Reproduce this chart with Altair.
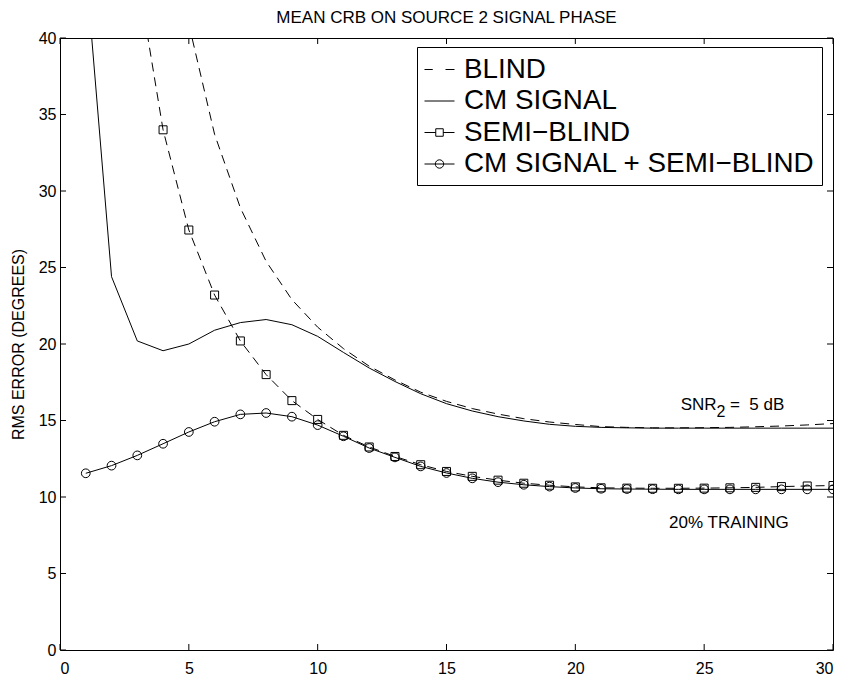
import altair as alt
import pandas as pd

# ---------------- data ----------------
x_blind = list(range(5, 31))
blind = [40.9, 33.7, 28.9, 25.4, 22.9, 21.1, 19.7, 18.55, 17.65, 16.85,
         16.25, 15.78, 15.42, 15.12, 14.9, 14.74, 14.6, 14.55, 14.52, 14.52,
         14.53, 14.55, 14.59, 14.64, 14.71, 14.8]

x_cm = list(range(1, 31))
cm_signal = [44.7, 24.4, 20.2, 19.56, 20.0, 20.9, 21.4, 21.6, 21.26, 20.5,
             19.45, 18.43, 17.55, 16.75, 16.1, 15.62, 15.25, 14.97, 14.75, 14.62,
             14.55, 14.52, 14.5, 14.5, 14.5, 14.5, 14.5, 14.5, 14.5, 14.5]

x_semi = list(range(3, 31))
semi_blind = [44.2, 34.0, 27.45, 23.2, 20.2, 18.0, 16.3, 15.07, 14.03, 13.27,
              12.65, 12.11, 11.67, 11.35, 11.1, 10.9, 10.77, 10.66, 10.6, 10.58,
              10.57, 10.57, 10.58, 10.6, 10.63, 10.68, 10.72, 10.75]

x_cmsemi = list(range(1, 31))
cm_semi = [11.55, 12.05, 12.72, 13.48, 14.25, 14.92, 15.4, 15.49, 15.25, 14.7,
           13.97, 13.2, 12.59, 12.0, 11.57, 11.22, 10.97, 10.8, 10.68, 10.59,
           10.54, 10.52, 10.51, 10.5, 10.5, 10.5, 10.5, 10.5, 10.5, 10.5]

series_names = ["BLIND", "CM SIGNAL", "SEMI\u2212BLIND", "CM SIGNAL + SEMI\u2212BLIND"]
x_ticks = [0, 5, 10, 15, 20, 25, 30]
y_ticks = [0, 5, 10, 15, 20, 25, 30, 35, 40]

title_text = "MEAN CRB ON SOURCE 2 SIGNAL PHASE"
y_title = "RMS ERROR (DEGREES)"

# ---------------- layout ----------------
W, H = 773, 612
FONT = "Liberation Sans"
TICK = 6

frames = []
for name, xs_, ys_ in zip(series_names,
                          [x_blind, x_cm, x_semi, x_cmsemi],
                          [blind, cm_signal, semi_blind, cm_semi]):
    frames.append(pd.DataFrame({"series": name, "x": xs_, "y": ys_}))
df = pd.concat(frames, ignore_index=True)

xs = alt.Scale(domain=[0, 30], nice=False, zero=False)
ys = alt.Scale(domain=[0, 40], nice=False, zero=False)

x_axis = alt.Axis(values=x_ticks, format="d", ticks=False, domain=False, grid=False,
                  labelFont=FONT, labelFontSize=16, labelColor="black", labelPadding=10)
y_axis = alt.Axis(values=y_ticks, format="d", ticks=False, domain=False, grid=False,
                  labelFont=FONT, labelFontSize=16, labelColor="black", labelPadding=4,
                  titleFont=FONT, titleFontSize=16, titleFontWeight="normal",
                  titleColor="black", titlePadding=12)

def X(field="x"):
    return alt.X(f"{field}:Q", scale=xs, axis=x_axis, title=None)

def Y(field="y"):
    return alt.Y(f"{field}:Q", scale=ys, axis=y_axis, title=y_title)

base = alt.Chart(df)

def sel(name):
    return base.transform_filter(alt.datum.series == name)

blind_line = sel("BLIND").mark_line(color="black", strokeWidth=1, strokeDash=[9, 6], clip=True).encode(
    x=X(), y=Y())
cm_line = sel("CM SIGNAL").mark_line(color="black", strokeWidth=1, clip=True).encode(x=X(), y=Y())
semi_line = sel(series_names[2]).mark_line(color="black", strokeWidth=1, strokeDash=[9, 6], clip=True).encode(
    x=X(), y=Y())
semi_pts = sel(series_names[2]).mark_point(shape="square", size=64, filled=False, color="black",
                                            strokeWidth=1, opacity=1, clip=True).encode(x=X(), y=Y())
cmsemi_line = sel(series_names[3]).mark_line(color="black", strokeWidth=1, clip=True).encode(x=X(), y=Y())
cmsemi_pts = sel(series_names[3]).mark_point(shape="circle", size=76, filled=False, color="black",
                                             strokeWidth=1, opacity=1, clip=True).encode(x=X(), y=Y())

# legend (custom symbols: line + marker)
legend_paths = [
    "M-1,0H-0.45M0.4,0H1",
    "M-1,0H1",
    "M-1,0H-0.25M-0.25,-0.25H0.25V0.25H-0.25ZM0.25,0H1",
    "M-1,0H1M-0.28,0A0.28,0.28 0 1,0 0.28,0A0.28,0.28 0 1,0 -0.28,0Z",
]
leg_df = pd.DataFrame({"series": series_names, "x": [15] * 4, "y": [-50] * 4})
legend_layer = alt.Chart(leg_df).mark_point(filled=False, color="black", strokeWidth=1,
                                            opacity=1, clip=True).encode(
    x=X(), y=Y(),
    shape=alt.Shape("series:N", title=None,
                    scale=alt.Scale(domain=series_names, range=legend_paths),
                    legend=alt.Legend(orient="none", legendX=357, legendY=9, padding=7,
                                      strokeColor="black", fillColor="white", cornerRadius=0,
                                      symbolSize=900, symbolStrokeWidth=1,
                                      symbolStrokeColor="black", symbolFillColor="transparent",
                                      labelFont=FONT, labelFontSize=27.8, labelColor="black",
                                      labelOffset=9, labelLimit=600, rowPadding=1.5)),
)

# annotations
NB = "\u00a0"

def txt(s, x, y, size=17, align="left", dy=0):
    return alt.Chart(pd.DataFrame({"t": [s]})).mark_text(
        font=FONT, fontSize=size, color="black", align=align, baseline="alphabetic", dy=dy
    ).encode(x=alt.datum(x, scale=xs, axis=x_axis, title=None),
             y=alt.datum(y, scale=ys, axis=y_axis, title=y_title), text="t:N")

snr = txt("SNR", 25.48, 15.7, align="right")
snr_sub = txt("2", 25.48, 15.7, size=16, align="left", dy=7)
snr_rest = txt("=" + NB + NB + "5" + NB + "dB", 26.0, 15.7)
training = txt("20% TRAINING", 25.96, 7.95, align="center")

# inward tick marks on all four sides
xt = pd.DataFrame({"v": x_ticks})
yt = pd.DataFrame({"v": y_ticks})
tick_bottom = alt.Chart(xt).mark_rule(color="black", strokeWidth=1).encode(
    x=X("v"), y=alt.value(H), y2=alt.value(H - TICK))
tick_top = alt.Chart(xt).mark_rule(color="black", strokeWidth=1).encode(
    x=X("v"), y=alt.value(0), y2=alt.value(TICK))
tick_left = alt.Chart(yt).mark_rule(color="black", strokeWidth=1).encode(
    y=Y("v"), x=alt.value(0), x2=alt.value(TICK))
tick_right = alt.Chart(yt).mark_rule(color="black", strokeWidth=1).encode(
    y=Y("v"), x=alt.value(W), x2=alt.value(W - TICK))

chart = alt.layer(
    blind_line, cm_line, semi_line, cmsemi_line, semi_pts, cmsemi_pts,
    tick_bottom, tick_top, tick_left, tick_right,
    snr, snr_sub, snr_rest, training, legend_layer,
).properties(
    width=W, height=H,
    title=alt.TitleParams(title_text, font=FONT, fontSize=17, fontWeight="normal",
                          color="black", anchor="middle", offset=3),
    autosize=alt.AutoSizeParams(type="none"),
    padding={"left": 52, "top": 30, "right": 5, "bottom": 26},
    background="white",
).configure_view(stroke="black", strokeWidth=1)

chart.save("out.html", embed_options={"renderer": "svg", "actions": False})
